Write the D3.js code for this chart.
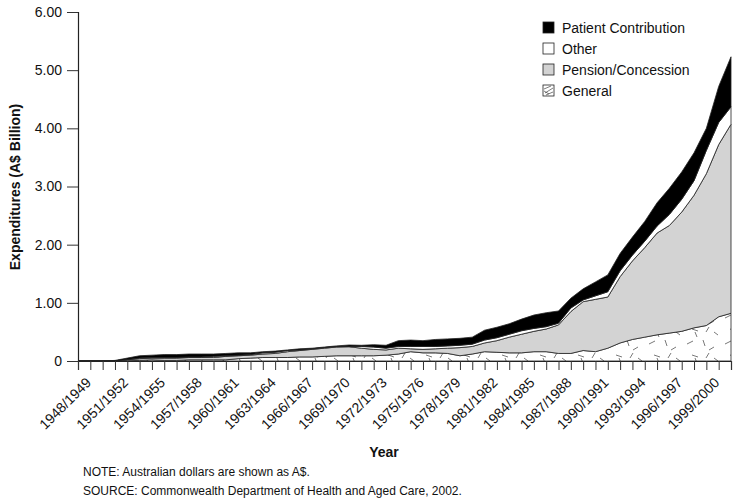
<!DOCTYPE html>
<html>
<head>
<meta charset="utf-8">
<script src="https://cdn.jsdelivr.net/npm/d3@7"></script>
<style>
  html, body { margin: 0; padding: 0; background: #fff; }
  svg { display: block; font-family: "Liberation Sans", Arial, Helvetica, sans-serif; }
</style>
</head>
<body>
<svg id="chart" width="745" height="501"></svg>
<script>
// ---- Data (A$ billion) ----
const years = ["1948/1949","1949/1950","1950/1951","1951/1952","1952/1953","1953/1954","1954/1955","1955/1956","1956/1957","1957/1958",
  "1958/1959","1959/1960","1960/1961","1961/1962","1962/1963","1963/1964","1964/1965","1965/1966","1966/1967","1967/1968",
  "1968/1969","1969/1970","1970/1971","1971/1972","1972/1973","1973/1974","1974/1975","1975/1976","1976/1977","1977/1978",
  "1978/1979","1979/1980","1980/1981","1981/1982","1982/1983","1983/1984","1984/1985","1985/1986","1986/1987","1987/1988",
  "1988/1989","1989/1990","1990/1991","1991/1992","1992/1993","1993/1994","1994/1995","1995/1996","1996/1997","1997/1998",
  "1998/1999","1999/2000","2000/2001","2001/2002"];
const general = [0,0,0,0,0.005,0.01,0.02,0.01,0.01,0.02,
  0.02,0.02,0.02,0.04,0.05,0.06,0.06,0.06,0.07,0.07,
  0.08,0.09,0.09,0.09,0.09,0.10,0.12,0.16,0.14,0.14,
  0.13,0.09,0.12,0.16,0.15,0.14,0.14,0.16,0.16,0.13,
  0.13,0.18,0.16,0.22,0.31,0.37,0.41,0.45,0.48,0.51,
  0.57,0.61,0.76,0.82];
const pension = [0,0,0,0.005,0.015,0.03,0.03,0.04,0.04,0.04,
  0.04,0.04,0.06,0.05,0.05,0.06,0.07,0.10,0.11,0.13,
  0.14,0.15,0.155,0.13,0.11,0.09,0.10,0.05,0.06,0.07,
  0.09,0.14,0.13,0.15,0.20,0.27,0.32,0.35,0.39,0.49,
  0.72,0.84,0.90,0.88,1.14,1.35,1.54,1.75,1.85,2.05,
  2.28,2.61,2.96,3.25];
const other = [0,0,0,0,0.005,0.01,0.01,0.01,0.01,0.01,
  0.01,0.02,0.01,0.01,0.01,0.02,0.02,0.02,0.01,0.01,
  0.01,0.01,0.005,0.03,0.04,0.03,0.03,0.04,0.05,0.04,
  0.04,0.04,0.04,0.05,0.05,0.05,0.06,0.05,0.04,0.03,
  0.06,0.03,0.06,0.09,0.10,0.10,0.11,0.12,0.19,0.22,
  0.25,0.40,0.38,0.30];
const patient = [0,0,0,0.005,0.025,0.04,0.04,0.05,0.05,0.05,
  0.05,0.04,0.04,0.04,0.03,0.02,0.02,0.01,0.02,0.01,
  0.01,0.01,0.025,0.02,0.04,0.05,0.10,0.11,0.10,0.12,
  0.12,0.12,0.12,0.17,0.18,0.18,0.20,0.23,0.24,0.21,
  0.17,0.19,0.24,0.29,0.30,0.31,0.34,0.40,0.45,0.47,
  0.48,0.38,0.62,0.86];
const yTicks = [0, 1, 2, 3, 4, 5, 6];
const seriesKeys = ["general", "pension", "other", "patient"];
const legendLabels = ["Patient Contribution", "Other", "Pension/Concession", "General"];
const legendKeys = ["patient", "other", "pension", "general"];

// ---- Build table ----
const table = years.map((y, i) => ({
  year: y, general: general[i], pension: pension[i], other: other[i], patient: patient[i]
}));

const svg = d3.select("#chart");
const defs = svg.append("defs");

// scattered dash pattern for General
const pat = defs.append("pattern").attr("id", "hatch").attr("patternUnits", "userSpaceOnUse")
  .attr("width", 38).attr("height", 26);
pat.append("rect").attr("width", 38).attr("height", 26).attr("fill", "#fff");
pat.append("path")
  .attr("d", "M3,6 l6,-3 M19,2 l2,6 M30,9 l-5,3 M8,17 l6,2 M22,20 l3,-5 M34,23 l-4,-3 M13,25 l-2,-5")
  .attr("stroke", "#555").attr("stroke-width", 0.8).attr("fill", "none");

const pat2 = defs.append("pattern").attr("id", "hatchLegend").attr("patternUnits", "userSpaceOnUse")
  .attr("width", 12).attr("height", 12);
pat2.append("rect").attr("width", 12).attr("height", 12).attr("fill", "#fff");

const fills = { general: "url(#hatch)", pension: "#d3d3d3", other: "#ffffff", patient: "#000000" };

const x = d3.scalePoint().domain(years).range([78, 731]);
const y = d3.scaleLinear().domain([0, 6]).range([361, 12]);

const stack = d3.stack().keys(seriesKeys);
const stacked = stack(table);

const area = d3.area()
  .x(d => x(d.data.year))
  .y0(d => y(d[0]))
  .y1(d => y(d[1]));

svg.append("g").selectAll("path")
  .data(stacked)
  .join("path")
  .attr("d", area)
  .attr("fill", d => fills[d.key])
  .attr("stroke", "#222")
  .attr("stroke-width", 0.8)
  .attr("stroke-linejoin", "round");

// ---- Y axis ----
const yAxis = d3.axisLeft(y).tickValues(yTicks).tickSize(11).tickPadding(5)
  .tickFormat(d => d === 0 ? "0" : d3.format(".2f")(d));
const gy = svg.append("g").attr("transform", "translate(78,0)").call(yAxis);
gy.select(".domain").attr("stroke", "#222").attr("stroke-width", 1.2);
gy.selectAll(".tick line").attr("stroke", "#333");
gy.selectAll(".tick text").attr("font-size", 14).attr("fill", "#111")
  .attr("font-family", "Liberation Sans, Arial, sans-serif");

// ---- X axis ----
const xAxis = d3.axisBottom(x).tickSize(9).tickPadding(3)
  .tickFormat((d, i) => (i % 3 === 0 && i <= 51) ? d : "");
const gx = svg.append("g").attr("transform", "translate(0,361)").call(xAxis);
gx.select(".domain").attr("stroke", "#222").attr("stroke-width", 1.2);
gx.selectAll(".tick line").attr("stroke", "#333");
gx.selectAll(".tick text")
  .attr("font-size", 14).attr("fill", "#111")
  .attr("text-anchor", "end")
  .attr("dy", "0")
  .attr("transform", "translate(5,14) rotate(-45)");

// ---- Axis titles ----
svg.append("text")
  .attr("transform", "translate(20,187) rotate(-90)")
  .attr("text-anchor", "middle")
  .attr("font-size", 14).attr("font-weight", "bold").attr("fill", "#111")
  .text("Expenditures (A$ Billion)");
svg.append("text")
  .attr("x", 384).attr("y", 457)
  .attr("text-anchor", "middle")
  .attr("font-size", 14).attr("font-weight", "bold").attr("fill", "#111")
  .text("Year");

// ---- Notes ----
svg.append("text").attr("x", 83).attr("y", 476).attr("font-size", 12).attr("fill", "#111")
  .text("NOTE: Australian dollars are shown as A$.");
svg.append("text").attr("x", 83).attr("y", 495).attr("font-size", 12).attr("fill", "#111")
  .text("SOURCE: Commonwealth Department of Health and Aged Care, 2002.");

// ---- Legend ----
const legend = svg.append("g").attr("transform", "translate(543,22)");
legendKeys.forEach((k, i) => {
  const g = legend.append("g").attr("transform", `translate(0,${i * 21})`);
  g.append("rect").attr("width", 11).attr("height", 11)
    .attr("fill", k === "general" ? "#fff" : fills[k])
    .attr("stroke", "#222").attr("stroke-width", 0.8);
  if (k === "general") {
    g.append("path").attr("d", "M1,4 L8,1 M2,8 L10,3 M3,10 L10,7 M1,6 L6,9")
      .attr("stroke", "#444").attr("stroke-width", 0.7).attr("fill", "none");
  }
  g.append("text").attr("x", 19).attr("y", 10.5).attr("font-size", 14).attr("fill", "#111")
    .text(legendLabels[i]);
});
</script>
</body>
</html>
